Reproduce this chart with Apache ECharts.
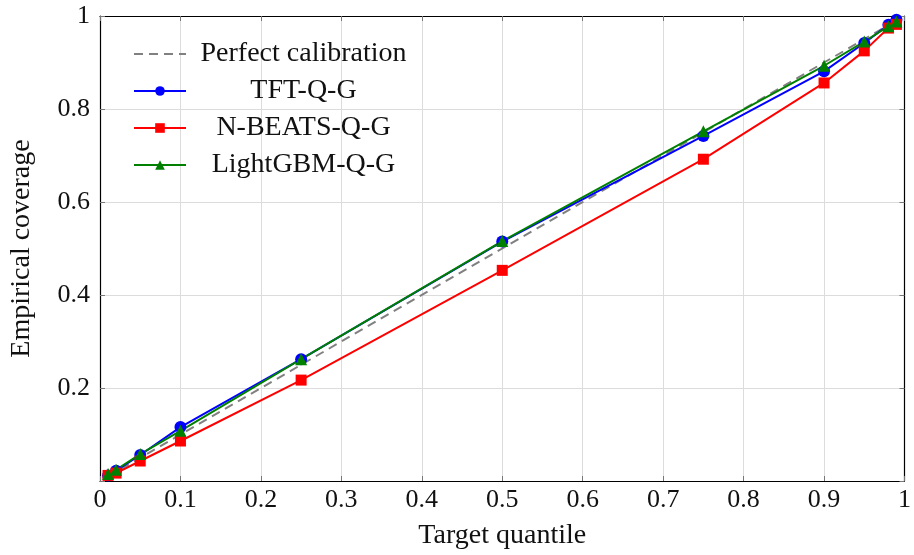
<!DOCTYPE html>
<html>
<head>
<meta charset="utf-8">
<script src="https://cdn.jsdelivr.net/npm/echarts@6/dist/echarts.min.js"></script>
<style>
  html, body { margin: 0; padding: 0; background: #fff; }
  #chart { width: 914px; height: 555px; }
</style>
</head>
<body>
<div id="chart"></div>
<script>
const quantiles = [0.01, 0.02, 0.05, 0.1, 0.25, 0.5, 0.75, 0.9, 0.95, 0.98, 0.99];
const perfect = [0.01, 0.02, 0.05, 0.1, 0.25, 0.5, 0.75, 0.9, 0.95, 0.98, 0.99];
const tft = [0.012, 0.022, 0.056, 0.116, 0.262, 0.515, 0.742, 0.881, 0.942, 0.981, 0.992];
const nbeats = [0.012, 0.017, 0.043, 0.086, 0.217, 0.453, 0.692, 0.856, 0.925, 0.974, 0.982];
const lightgbm = [0.015, 0.024, 0.058, 0.108, 0.262, 0.516, 0.752, 0.893, 0.945, 0.978, 0.988];
const xTicks = ['0', '0.1', '0.2', '0.3', '0.4', '0.5', '0.6', '0.7', '0.8', '0.9', '1'];
const yTicks = ['', '0.2', '0.4', '0.6', '0.8', '1'];

const font = 'Liberation Serif';
const pairs = ys => quantiles.map((q, i) => [q, ys[i]]);

const mychart = echarts.init(document.getElementById('chart'));
const tick = { show: true, inside: true, length: 5, lineStyle: { color: '#777', width: 1 } };
const frame = { show: true, onZero: false, lineStyle: { color: '#000', width: 1.2 } };

mychart.setOption({
  animation: false,
  textStyle: { fontFamily: font },
  grid: { left: 98, right: 7, top: 16, bottom: 74 },
  legend: {
    orient: 'vertical',
    left: 128,
    top: 35,
    itemWidth: 52,
    itemHeight: 12,
    itemGap: 9,
    data: [
      { name: 'Perfect calibration', itemStyle: { opacity: 0 } },
      'TFT-Q-G', 'N-BEATS-Q-G', 'LightGBM-Q-G'
    ],
    formatter: name => '{c|' + name + '}',
    textStyle: {
      fontFamily: font,
      rich: { c: { width: 225, align: 'center', fontSize: 28, fontFamily: font, color: '#111', lineHeight: 28 } }
    }
  },
  xAxis: [{
    type: 'value', min: 0, max: 1, interval: 0.1,
    name: 'Target quantile', nameLocation: 'middle', nameGap: 41,
    nameTextStyle: { fontFamily: font, fontSize: 28, color: '#111' },
    axisLine: frame,
    axisTick: tick,
    axisLabel: { fontFamily: font, fontSize: 26, color: '#111', margin: 6,
      formatter: (v) => xTicks[Math.round(v * 10)] },
    splitLine: { show: true, lineStyle: { color: '#dcdcdc', width: 1 } }
  }, {
    type: 'value', min: 0, max: 1, interval: 0.1, position: 'top',
    axisLine: frame, axisTick: tick, axisLabel: { show: false }, splitLine: { show: false }
  }],
  yAxis: [{
    type: 'value', min: 0, max: 1, interval: 0.2,
    name: 'Empirical coverage', nameLocation: 'middle', nameGap: 64, nameRotate: 90,
    nameTextStyle: { fontFamily: font, fontSize: 28, color: '#111' },
    axisLine: frame,
    axisTick: tick,
    axisLabel: { fontFamily: font, fontSize: 26, color: '#111', margin: 10,
      formatter: (v) => yTicks[Math.round(v * 5)] },
    splitLine: { show: true, lineStyle: { color: '#dcdcdc', width: 1 } }
  }, {
    type: 'value', min: 0, max: 1, interval: 0.2, position: 'right',
    axisLine: frame, axisTick: tick, axisLabel: { show: false }, splitLine: { show: false }
  }],
  series: [{
    name: 'Perfect calibration', type: 'line', data: pairs(perfect),
    symbol: 'none', lineStyle: { color: '#808080', width: 2, type: [9, 6] }, itemStyle: { color: '#808080' }
  }, {
    name: 'TFT-Q-G', type: 'line', data: pairs(tft),
    symbol: 'circle', symbolSize: 12, lineStyle: { color: '#0000ff', width: 2 }, itemStyle: { color: '#0000ff' }
  }, {
    name: 'N-BEATS-Q-G', type: 'line', data: pairs(nbeats),
    symbol: 'rect', symbolSize: 11, lineStyle: { color: '#ff0000', width: 2 }, itemStyle: { color: '#ff0000' }
  }, {
    name: 'LightGBM-Q-G', type: 'line', data: pairs(lightgbm),
    symbol: 'triangle', symbolSize: 12, lineStyle: { color: '#008000', width: 2 }, itemStyle: { color: '#008000' }
  }]
});
</script>
</body>
</html>
